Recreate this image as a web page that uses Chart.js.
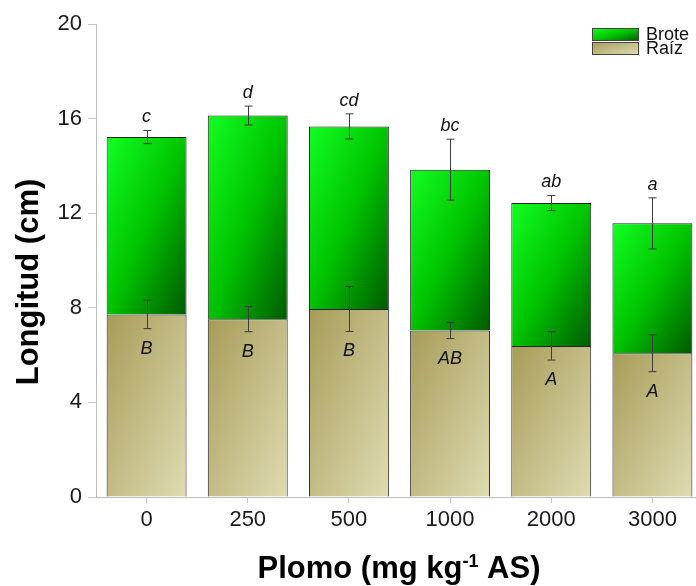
<!DOCTYPE html>
<html><head><meta charset="utf-8">
<script src="https://cdn.jsdelivr.net/npm/chart.js@4.4.1/dist/chart.umd.min.js"></script>
<style>html,body{margin:0;padding:0;overflow:hidden;background:#fff}#wrap{width:703px;height:586px}</style>
</head><body><div id="wrap"><canvas id="c" width="703" height="586"></canvas></div>
<script>
// ---- data ----
const categories = ['0', '250', '500', '1000', '2000', '3000'];
const raiz = [7.72, 7.52, 7.95, 7.04, 6.39, 6.08];          // Raíz length
const brote = [7.50, 8.61, 7.72, 6.80, 6.04, 5.49];         // Brote length (stacked above Raíz)
const raizErr = [0.60, 0.53, 0.95, 0.34, 0.60, 0.78];
const broteErr = [0.28, 0.40, 0.53, 1.29, 0.32, 1.08];
const broteLetters = ['c', 'd', 'cd', 'bc', 'ab', 'a'];
const raizLetters = ['B', 'B', 'B', 'AB', 'A', 'A'];
const yTicks = [0, 4, 8, 12, 16, 20];

// ---- style ----
const FONT = '"Liberation Sans", Arial, Helvetica, sans-serif';
const BAR_PCT = 0.79;
const BROTE_STOPS = [[0, '#12ff22'], [0.5, '#00c400'], [1, '#005a00']];
const RAIZ_STOPS = [[0, '#a69c58'], [0.5, '#c3bc86'], [1, '#dfdcb2']];

function diagGradient(c2d, left, top, right, bottom, stops) {
  const w = right - left, h = bottom - top;
  if (![left, top, right, bottom].every(Number.isFinite) || w <= 0 || h <= 0) return stops[1][1];
  const t = 2 * w * h / (w * w + h * h);
  const g = c2d.createLinearGradient(left, top, left + t * h, top + t * w);
  stops.forEach(s => g.addColorStop(s[0], s[1]));
  return g;
}

function barFill(stops) {
  return function (ctx) {
    const chart = ctx.chart, xs = chart.scales && chart.scales.x, ys = chart.scales && chart.scales.y;
    if (ctx.type !== 'data' || !xs || !ys || !xs.width) return stops[1][1];
    const i = ctx.dataIndex;
    const cx = xs.getPixelForValue(i);
    const half = (xs.width / categories.length) * BAR_PCT / 2;
    const lo = ctx.datasetIndex === 0 ? 0 : raiz[i];
    const hi = ctx.datasetIndex === 0 ? raiz[i] : raiz[i] + brote[i];
    return diagGradient(chart.ctx, cx - half, ys.getPixelForValue(hi), cx + half, ys.getPixelForValue(lo), stops);
  };
}

const overlay = {
  id: 'overlay',
  afterDatasetsDraw(chart) {
    const c = chart.ctx, xs = chart.scales.x, ys = chart.scales.y;
    c.save();
    c.strokeStyle = '#3c3c3c';
    c.lineWidth = 1;
    const errTop = [], errBot = [];
    function drawErr(x, v, e) {
      const y1 = ys.getPixelForValue(v + e), y2 = ys.getPixelForValue(v - e);
      c.beginPath();
      c.moveTo(x, y1); c.lineTo(x, y2);
      c.moveTo(x - 4, y1); c.lineTo(x + 4, y1);
      c.moveTo(x - 4, y2); c.lineTo(x + 4, y2);
      c.stroke();
      return [y1, y2];
    }
    for (let i = 0; i < categories.length; i++) {
      const x = Math.round(xs.getPixelForValue(i)) + 0.5;
      const r = drawErr(x, raiz[i], raizErr[i]);
      const b = drawErr(x, raiz[i] + brote[i], broteErr[i]);
      errBot.push(r[1]); errTop.push(b[0]);
    }
    c.fillStyle = '#111';
    c.font = 'italic 18px ' + FONT;
    c.textAlign = 'center';
    c.textBaseline = 'alphabetic';
    for (let i = 0; i < categories.length; i++) {
      const x = xs.getPixelForValue(i);
      c.fillText(broteLetters[i], x, errTop[i] - 8);
      c.fillText(raizLetters[i], x, errBot[i] + 25);
    }
    c.restore();
  },
  afterDraw(chart) {
    const c = chart.ctx;
    c.save();
    c.fillStyle = '#000';
    c.font = 'bold 31px ' + FONT;
    c.translate(29, 282);
    c.rotate(-Math.PI / 2);
    c.textAlign = 'center';
    c.textBaseline = 'middle';
    c.fillText('Longitud (cm)', 0, 0);
    c.restore();

    c.save();
    c.fillStyle = '#000';
    const p1 = 'Plomo (mg kg', sup = '-1', p2 = ' AS)';
    c.font = 'bold 31px ' + FONT;
    const w1 = c.measureText(p1).width, w3 = c.measureText(p2).width;
    c.font = 'bold 18px ' + FONT;
    const w2 = c.measureText(sup).width;
    let x = 399 - (w1 + w2 + w3) / 2;
    const base = 578;
    c.textBaseline = 'alphabetic';
    c.textAlign = 'left';
    c.font = 'bold 31px ' + FONT;
    c.fillText(p1, x, base); x += w1;
    c.font = 'bold 18px ' + FONT;
    c.fillText(sup, x, base - 11); x += w2;
    c.font = 'bold 31px ' + FONT;
    c.fillText(p2, x, base);
    c.restore();

    c.save();
    const items = [['Brote', BROTE_STOPS, 28], ['Raíz', RAIZ_STOPS, 42]];
    items.forEach(it => {
      const l = 592, t = it[2], w = 47, h = 13;
      c.fillStyle = diagGradient(c, l, t, l + w, t + h, it[1]);
      c.fillRect(l, t, w, h);
      c.strokeStyle = '#444';
      c.lineWidth = 1;
      c.strokeRect(l + 0.5, t + 0.5, w - 1, h - 1);
      c.fillStyle = '#111';
      c.font = '18px ' + FONT;
      c.textAlign = 'left';
      c.textBaseline = 'middle';
      c.fillText(it[0], 646, t + h / 2 + 1);
    });
    c.restore();
  }
};

new Chart(document.getElementById('c'), {
  type: 'bar',
  data: {
    labels: categories,
    datasets: [
      { label: 'Raíz', data: raiz, backgroundColor: barFill(RAIZ_STOPS), borderColor: '#222', borderWidth: 1,
        barPercentage: BAR_PCT, categoryPercentage: 1 },
      { label: 'Brote', data: brote, backgroundColor: barFill(BROTE_STOPS), borderColor: '#222', borderWidth: 1,
        barPercentage: BAR_PCT, categoryPercentage: 1 }
    ]
  },
  options: {
    responsive: false,
    animation: false,
    layout: { padding: { top: 24, right: 0, bottom: 0, left: 0 } },
    plugins: { legend: { display: false }, tooltip: { enabled: false } },
    scales: {
      x: {
        stacked: true,
        grid: { display: true, drawOnChartArea: false, drawTicks: true, tickLength: 6, offset: false, color: '#c8c8c8' },
        border: { color: '#bdbdbd', width: 1 },
        ticks: { color: '#1a1a1a', font: { size: 22, family: FONT }, padding: 4, maxRotation: 0 },
        afterFit(s) { s.height = 89; }
      },
      y: {
        stacked: true,
        min: 0, max: 20,
        afterBuildTicks(s) { s.ticks = yTicks.map(v => ({ value: v })); },
        grid: { display: true, drawOnChartArea: false, drawTicks: true, tickLength: 8, color: '#c8c8c8' },
        border: { color: '#bdbdbd', width: 1 },
        ticks: { color: '#1a1a1a', font: { size: 22, family: FONT }, padding: 6 },
        afterFit(s) { s.width = 96; }
      }
    }
  },
  plugins: [overlay]
});
</script>
</body></html>
